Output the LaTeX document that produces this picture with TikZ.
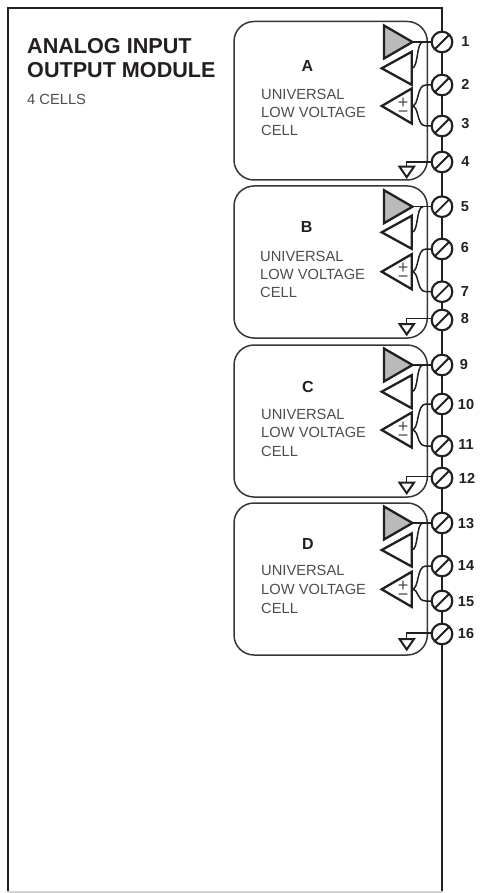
\documentclass[tikz,border=0pt]{standalone}
\usepackage{fontspec}
\setmainfont{Liberation Sans}
\definecolor{ink}{HTML}{231F20}
\definecolor{soft}{HTML}{4D4D4F}
\definecolor{ampfill}{HTML}{B9BABC}
\tikzset{
  frameline/.style={draw=ink,line width=2pt},
  cellbox/.style={draw=ink!90,line width=1.5pt,rounded corners=20pt},
  amp/.style={draw=ink,line width=2.3pt,line join=miter,fill=white},
  ampgrey/.style={amp,fill=ampfill},
  wire/.style={draw=ink,line width=1.5pt},
  term/.style={circle,draw=ink,line width=2.1pt,fill=white,minimum size=20.6pt,inner sep=0pt,outer sep=0pt},
  slash/.style={draw=ink,line width=1.8pt},
  titletext/.style={anchor=west,inner sep=0pt,text=ink,font=\fontsize{21.6}{21.6}\selectfont\bfseries},
  celltext/.style={anchor=west,inner sep=0pt,text=soft,font=\fontsize{14.7}{14.7}\selectfont},
  lettertext/.style={inner sep=0pt,text=ink,font=\fontsize{16}{16}\selectfont\bfseries},
  numtext/.style={inner sep=0pt,text=ink,font=\fontsize{14.5}{14.5}\selectfont\bfseries},
  signtext/.style={align=center,inner sep=0pt,text=soft,font=\fontsize{18}{9}\selectfont},
}
\begin{document}
\begin{tikzpicture}[x=1pt,y=-1pt]
\useasboundingbox (0,0) rectangle (479,893);
% frame
\draw[frameline] (7.8,893) -- (7.8,8.5) -- (442,8.5) -- (442,893);
\draw[draw=ink!20,line width=1.5pt] (7,892.2) -- (443,892.2);
\node[titletext] (title1) at (27,46) {ANALOG INPUT};
\node[titletext] (title2) at (27,70) {OUTPUT MODULE};
\node[celltext] (title3) at (27,99) {4 CELLS};
% terminals
\foreach \n/\ty/\nx/\ny in {1/42/465.5/42,2/85/465.5/84,3/126/465.5/124,4/162/465.5/162,
  5/206.7/465/207,6/249/465/248,7/291.7/465/291.7,8/320/465/319,
  9/365/464/365,10/404/466/405,11/446/466/445,12/478/467/478,
  13/523/466/524,14/566/466/566,15/601/466/601.7,16/634/466/634}{
  \node[term] (t\n) at (442,\ty) {};
  \draw[slash] (t\n.225) -- (t\n.45);
  \node[numtext] (n\n) at (\nx,\ny) {\n};
}
% cells
\foreach \L/\top/\bot/\lx/\ly/\tx/\tya/\tyb/\tyc/\na/\nb/\nc/\nd/\ya/\yb/\yc/\yd/\lo/\th/\gl/\gt in {
  A/21.5/180/307.3/66/261/94/112.7/130/1/2/3/4/42/85/126/162/68.3/106/162/166.7,
  B/186/338/306.7/227/260/256/274/292.7/5/6/7/8/206.7/249/291.7/320/232.3/271.7/318.5/324,
  C/345/497/308/386.7/261/414/432/451.7/9/10/11/12/365/404/446/478/391.7/430/476.7/482.7,
  D/503/655/308/544/261/570/589/608/13/14/15/16/523/566/601/634/550/589.3/633/639}{
  \draw[cellbox] (234,\top) rectangle (427.3,\bot);
  \node[lettertext] (letter\L) at (\lx,\ly) {\L};
  \node[celltext] (line1\L) at (\tx,\tya) {UNIVERSAL};
  \node[celltext] (line2\L) at (\tx,\tyb) {LOW VOLTAGE};
  \node[celltext] (line3\L) at (\tx,\tyc) {CELL};
  \coordinate (out\L) at (412.5,\ya);
  \coordinate (fb\L) at (411.7,\lo);
  \coordinate (in\L) at (411.7,\th);
  \coordinate (gnd\L) at (406.7,\gl);
  \coordinate (gtop\L) at (406.7,\gt);
  \coordinate (br\L) at (423,\ya);
  % connectors
  \draw[wire] (out\L) -- (t\na.west);
  \draw[wire] (br\L) .. controls +(-7,0) and +(7,0) .. (fb\L);
  \draw[wire] (in\L) .. controls +(8,0) and (416,\yb) .. (426,\yb) -- (t\nb.west);
  \draw[wire] (in\L) .. controls +(8,0) and (416,\yc) .. (426,\yc) -- (t\nc.west);
  \draw[wire] (gnd\L -| t\nd.west) -- (gnd\L) -- (gtop\L);
  % amplifiers
  \draw[ampgrey] (384,\ya-16.5) -- (out\L) -- (384,\ya+16.5) -- cycle;
  \draw[amp] (411.7,\lo-16.5) -- (381.7,\lo) -- (411.7,\lo+16.5) -- cycle;
  \draw[amp] (411.7,\th-17.5) -- (381.7,\th) -- (411.7,\th+17.5) -- cycle;
  \node[signtext] (signs\L) at (403,\th+1.5) {+\\−};
  % ground
  \draw[draw=ink,line width=2pt,line join=miter] (399.5,\gt) -- (414,\gt) -- (406.7,\gt+10.5) -- cycle;
}
\end{tikzpicture}
\end{document}
